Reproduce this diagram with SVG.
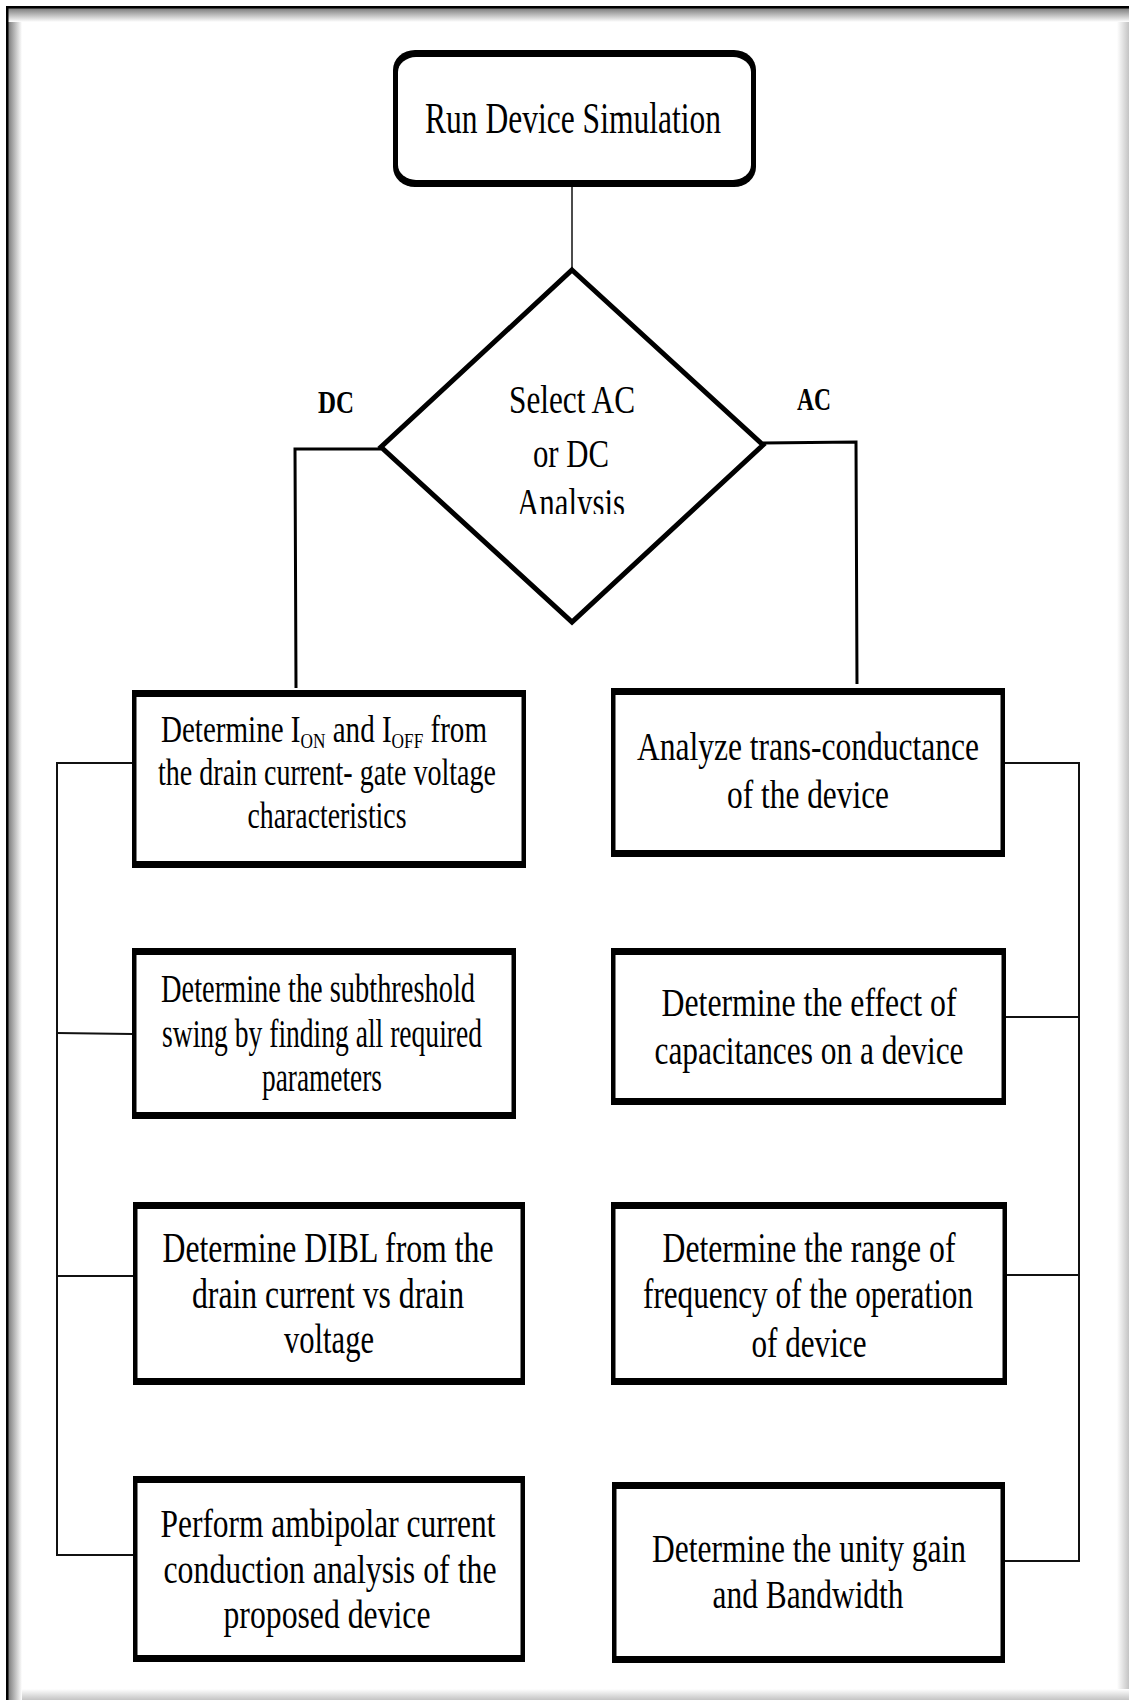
<svg xmlns="http://www.w3.org/2000/svg" width="1129" height="1700" viewBox="0 0 1129 1700">
  <defs>
    <linearGradient id="shadeL" x1="0" y1="0" x2="1" y2="0">
      <stop offset="0" stop-color="#7a7a7a"/>
      <stop offset="1" stop-color="#ffffff"/>
    </linearGradient>
    <linearGradient id="shadeT" x1="0" y1="0" x2="0" y2="1">
      <stop offset="0" stop-color="#7a7a7a"/>
      <stop offset="1" stop-color="#ffffff"/>
    </linearGradient>
    <linearGradient id="shadeR" x1="0" y1="0" x2="1" y2="0">
      <stop offset="0" stop-color="#ffffff"/>
      <stop offset="1" stop-color="#c4c4c4"/>
    </linearGradient>
    <linearGradient id="shadeB" x1="0" y1="0" x2="0" y2="1">
      <stop offset="0" stop-color="#ffffff"/>
      <stop offset="1" stop-color="#c4c4c4"/>
    </linearGradient>
    <!-- the last line of the decision label is cut off at its baseline -->
    <clipPath id="decisionClip">
      <rect x="480" y="470" width="190" height="44"/>
    </clipPath>
  </defs>
  <style>
    text { font-family: "Liberation Serif", "Times New Roman", serif; fill: #000; text-anchor: middle; }
    .lbl { font-weight: bold; font-size: 32px; }
    .edge { fill: #000; }
    .face { fill: #fff; }
    .wire { stroke: #111; stroke-width: 2; fill: none; }
    .wire-thin { stroke: #111; stroke-width: 1.5; fill: none; }
    .wire-bold { stroke: #000; stroke-width: 3; fill: none; }
  </style>

  <!-- page background and frame -->
  <rect x="0" y="0" width="1129" height="1700" fill="#fff"/>
  <rect x="8" y="8" width="14" height="1692" fill="url(#shadeL)"/>
  <rect x="8" y="8" width="1121" height="14" fill="url(#shadeT)"/>
  <rect x="1117" y="22" width="12" height="1678" fill="url(#shadeR)"/>
  <rect x="22" y="1689" width="1107" height="11" fill="url(#shadeB)"/>
  <rect x="6" y="6" width="1123" height="2.5" fill="#000"/>
  <rect x="6" y="6" width="2.5" height="1694" fill="#000"/>

  <!-- connectors -->
  <g id="connectors">
    <line class="wire-thin" x1="572" y1="187" x2="572" y2="270"/>
    <polyline class="wire-bold" points="381,449 295,449 296,688"/>
    <polyline class="wire-bold" points="763,443 856,442 857,684"/>
    <!-- DC bus -->
    <polyline class="wire" points="132,763 57,763 57,1555 133,1555"/>
    <line class="wire" x1="57" y1="1033" x2="132" y2="1034"/>
    <line class="wire" x1="57" y1="1276" x2="133" y2="1276"/>
    <!-- AC bus -->
    <polyline class="wire" points="1005,763 1079,763 1079,1561 1005,1561"/>
    <line class="wire" x1="1006" y1="1017" x2="1079" y2="1017"/>
    <line class="wire" x1="1007" y1="1275" x2="1079" y2="1275"/>
  </g>

  <!-- start -->
  <g id="node-start">
    <rect class="edge" x="393" y="50" width="363" height="137" rx="22" ry="20"/>
    <rect class="face" x="398" y="57" width="353" height="123" rx="18" ry="15"/>
    <text x="573" y="133" font-size="45" textLength="296" lengthAdjust="spacingAndGlyphs">Run Device Simulation</text>
  </g>

  <!-- decision -->
  <g id="node-decision">
    <polygon points="572,270 763,445 572,622 381,447" fill="#fff" stroke="#000" stroke-width="5" stroke-linejoin="miter"/>
    <g font-size="40">
      <text x="572" y="413" textLength="126" lengthAdjust="spacingAndGlyphs">Select AC</text>
      <text x="571" y="467" textLength="76" lengthAdjust="spacingAndGlyphs">or DC</text>
      <text x="571" y="516" textLength="108" lengthAdjust="spacingAndGlyphs" clip-path="url(#decisionClip)">Analysis</text>
    </g>
  </g>

  <g id="label-dc"><text class="lbl" x="336" y="413" textLength="36" lengthAdjust="spacingAndGlyphs">DC</text></g>
  <g id="label-ac"><text class="lbl" x="814" y="410" textLength="34" lengthAdjust="spacingAndGlyphs">AC</text></g>

  <!-- DC branch -->
  <g id="node-dc-ion-ioff">
    <rect class="edge" x="132" y="690" width="394" height="178"/>
    <rect class="face" x="136.5" y="697" width="385" height="164"/>
    <g font-size="37">
      <text x="324" y="742" textLength="326" lengthAdjust="spacingAndGlyphs">Determine I<tspan font-size="22" dy="6">ON</tspan><tspan dy="-6"> and I</tspan><tspan font-size="22" dy="6">OFF</tspan><tspan dy="-6"> from</tspan></text>
      <text x="327" y="785" textLength="338" lengthAdjust="spacingAndGlyphs">the drain current- gate voltage</text>
      <text x="327" y="828" textLength="159" lengthAdjust="spacingAndGlyphs">characteristics</text>
    </g>
  </g>

  <g id="node-dc-swing">
    <rect class="edge" x="132" y="948" width="384" height="171"/>
    <rect class="face" x="136.5" y="955" width="375" height="157"/>
    <g font-size="39">
      <text x="318" y="1002" textLength="314" lengthAdjust="spacingAndGlyphs">Determine the subthreshold</text>
      <text x="322" y="1047" textLength="320" lengthAdjust="spacingAndGlyphs">swing by finding all required</text>
      <text x="322" y="1091" textLength="120" lengthAdjust="spacingAndGlyphs">parameters</text>
    </g>
  </g>

  <g id="node-dc-dibl">
    <rect class="edge" x="133" y="1202" width="392" height="183"/>
    <rect class="face" x="137.5" y="1209" width="383" height="169"/>
    <g font-size="42">
      <text x="328" y="1262" textLength="331" lengthAdjust="spacingAndGlyphs">Determine DIBL from the</text>
      <text x="328" y="1308" textLength="272" lengthAdjust="spacingAndGlyphs">drain current vs drain</text>
      <text x="329" y="1353" textLength="90" lengthAdjust="spacingAndGlyphs">voltage</text>
    </g>
  </g>

  <g id="node-dc-ambipolar">
    <rect class="edge" x="133" y="1476" width="392" height="186"/>
    <rect class="face" x="137.5" y="1483" width="383" height="172"/>
    <g font-size="41">
      <text x="328" y="1537" textLength="335" lengthAdjust="spacingAndGlyphs">Perform ambipolar current</text>
      <text x="330" y="1583" textLength="333" lengthAdjust="spacingAndGlyphs">conduction analysis of the</text>
      <text x="327" y="1628" textLength="207" lengthAdjust="spacingAndGlyphs">proposed device</text>
    </g>
  </g>

  <!-- AC branch -->
  <g id="node-ac-gm">
    <rect class="edge" x="611" y="688" width="394" height="169"/>
    <rect class="face" x="615.5" y="695" width="385" height="155"/>
    <g font-size="40">
      <text x="808" y="760" textLength="342" lengthAdjust="spacingAndGlyphs">Analyze trans-conductance</text>
      <text x="808" y="808" textLength="162" lengthAdjust="spacingAndGlyphs">of the device</text>
    </g>
  </g>

  <g id="node-ac-capacitance">
    <rect class="edge" x="611" y="948" width="395" height="157"/>
    <rect class="face" x="615.5" y="955" width="386" height="143"/>
    <g font-size="40">
      <text x="809" y="1016" textLength="295" lengthAdjust="spacingAndGlyphs">Determine the effect of</text>
      <text x="809" y="1064" textLength="309" lengthAdjust="spacingAndGlyphs">capacitances on a device</text>
    </g>
  </g>

  <g id="node-ac-frequency">
    <rect class="edge" x="611" y="1202" width="396" height="183"/>
    <rect class="face" x="615.5" y="1209" width="387" height="169"/>
    <g font-size="42">
      <text x="809" y="1262" textLength="293" lengthAdjust="spacingAndGlyphs">Determine the range of</text>
      <text x="808" y="1308" textLength="330" lengthAdjust="spacingAndGlyphs">frequency of the operation</text>
      <text x="809" y="1357" textLength="115" lengthAdjust="spacingAndGlyphs">of device</text>
    </g>
  </g>

  <g id="node-ac-unity-gain">
    <rect class="edge" x="612" y="1482" width="393" height="181"/>
    <rect class="face" x="616.5" y="1489" width="384" height="167"/>
    <g font-size="40">
      <text x="809" y="1562" textLength="314" lengthAdjust="spacingAndGlyphs">Determine the unity gain</text>
      <text x="808" y="1608" textLength="191" lengthAdjust="spacingAndGlyphs">and Bandwidth</text>
    </g>
  </g>
</svg>
